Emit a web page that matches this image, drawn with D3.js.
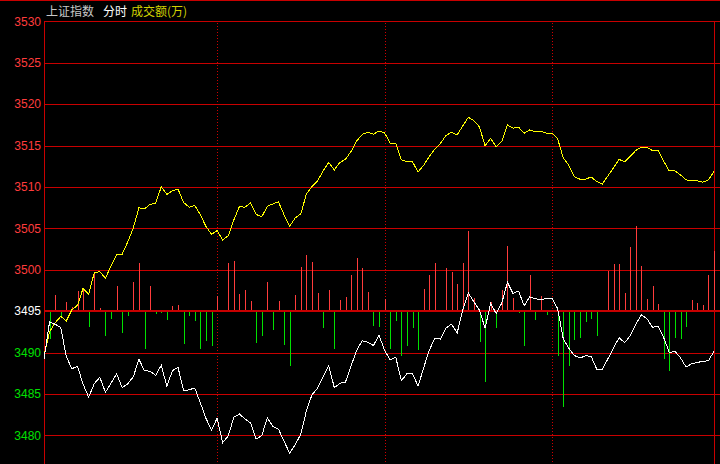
<!DOCTYPE html>
<html>
<head>
<meta charset="utf-8">
<script src="https://cdn.jsdelivr.net/npm/d3@7"></script>
<style>
	body { margin: 0; background: #000; }
	svg { display: block; }
</style>
</head>
<body>
<svg class="minutechart"></svg>
<script>
// price levels shown on the left axis
var priceTicks = [3530, 3525, 3520, 3515, 3510, 3505, 3500, 3495, 3490, 3485, 3480];
var baseLevel = 3495;

// sample index of the dotted hour lines (10:30, 11:30/13:00, 14:00)
var hourTicks = [31, 61, 91];

// index value every two minutes (white line)
var indexLine = [3489.18, 3493.71, 3493.41, 3493.02, 3489.49, 3488.04, 3488.34, 3486.17, 3484.60, 3486.23,
	3487.01, 3485.20, 3486.29, 3487.43, 3485.75, 3486.23, 3487.07, 3489.18, 3487.80, 3487.74,
	3487.25, 3488.46, 3485.93, 3487.80, 3488.22, 3485.38, 3485.50, 3485.71, 3483.93, 3482.06,
	3480.62, 3482.06, 3479.11, 3479.92, 3482.18, 3482.57, 3481.97, 3481.48, 3479.55, 3479.95,
	3482.12, 3481.04, 3480.74, 3479.26, 3477.84, 3478.87, 3480.13, 3482.97, 3484.90, 3485.68,
	3487.11, 3488.40, 3485.75, 3486.29, 3486.43, 3488.40, 3490.25, 3491.42, 3491.24, 3490.85,
	3492.08, 3490.27, 3489.12, 3489.43, 3486.59, 3487.43, 3487.43, 3485.93, 3488.16, 3490.27,
	3491.72, 3491.63, 3492.95, 3493.43, 3492.35, 3495.16, 3497.17, 3496.12, 3495.10, 3492.95,
	3495.94, 3494.68, 3496.00, 3498.48, 3497.13, 3497.42, 3495.64, 3496.73, 3496.49, 3496.36,
	3496.55, 3496.55, 3495.28, 3491.66, 3490.51, 3489.64, 3489.33, 3489.61, 3489.53, 3487.98,
	3488.00, 3489.24, 3490.57, 3491.78, 3491.18, 3492.02, 3493.41, 3494.53, 3494.07, 3493.05,
	3493.14, 3491.78, 3490.00, 3490.13, 3489.36, 3488.24, 3488.64, 3488.80, 3488.93, 3489.00,
	3490.15];

// second (yellow) line
var avgLine = [3489.60, 3492.50, 3493.59, 3494.35, 3493.83, 3495.16, 3495.70, 3497.75, 3497.03, 3499.62,
	3499.78, 3498.96, 3500.47, 3501.80, 3501.88, 3503.36, 3505.05, 3507.47, 3507.35, 3507.89,
	3508.04, 3510.00, 3509.10, 3509.52, 3509.72, 3508.13, 3507.55, 3507.77, 3506.62, 3505.24,
	3504.27, 3504.73, 3503.61, 3504.09, 3506.02, 3507.62, 3507.55, 3508.07, 3506.68, 3506.38,
	3507.65, 3507.95, 3508.19, 3506.62, 3505.24, 3506.26, 3506.74, 3509.16, 3510.06, 3510.73,
	3511.93, 3512.96, 3512.05, 3512.96, 3513.32, 3514.29, 3515.55, 3516.34, 3516.58, 3516.36,
	3516.76, 3516.52, 3515.28, 3515.28, 3513.26, 3513.08, 3513.02, 3511.81, 3512.60, 3513.68,
	3514.59, 3515.25, 3516.22, 3516.60, 3516.28, 3517.36, 3518.41, 3518.00, 3517.24, 3514.95,
	3515.86, 3514.83, 3515.49, 3517.48, 3517.09, 3517.21, 3516.48, 3516.88, 3516.64, 3516.72,
	3516.48, 3516.48, 3515.80, 3513.50, 3512.60, 3511.21, 3510.93, 3510.93, 3511.21, 3510.64,
	3510.36, 3511.33, 3512.30, 3513.32, 3513.02, 3513.68, 3514.41, 3514.79, 3514.76, 3514.38,
	3514.38, 3513.08, 3511.93, 3511.93, 3511.45, 3510.85, 3510.73, 3510.73, 3510.57, 3510.85,
	3511.85];

// turnover bars, positive = red (up), negative = green (down)
var turnover = [0, -28, 16.5, -6, 9.5, 4.5, 20.5, 22.5, -15.5, 38,
	3.5, -25, -7.5, 25, -22, -5, 29.5, 48, -38, 25.5,
	-2.5, -1.5, -8.5, 5.5, 6.5, -32.5, -5, -9.5, -37.5, -30,
	-34.5, 15.5, 1.5, 48, 50.5, 17.5, 21.5, 10.5, -31.5, -25,
	29.5, -19, 10, -33.5, -54.5, 16.5, 44.5, 56.5, 49.5, 18.5,
	-17, 21.5, -38, 11.5, 14.5, 36.5, 53.5, 43.5, 19.5, -15,
	-16, 12.5, -38, -10, -45, -35, -17, -39, 22.5, 36.5,
	48.5, 0, 43.5, 39.5, 27.5, 48.5, 80.5, 13, -31, -71,
	9, -17, 21.5, 65.5, 13, -2, -35, 36.5, -8.5, 15.5,
	-4, 0, -44.5, -96, -55, -29, -27, -11, -8, -25,
	1.5, 40, 47.5, 47.5, 18, 64, 85, 45.5, 12.5, 25.5,
	7.5, -47.5, -60, -26.5, -27.5, -16, 11.5, 8, 6.5, 36.5,
	60];

var width = 720, height = 464,
	left = 44, right = 714;

var svg = d3.select(".minutechart")
	.attr("width", width)
	.attr("height", height)
	.style("background", "#000");

var x = d3.scaleLinear().domain([0, indexLine.length - 1]).range([left, right]);
var y = d3.scaleLinear().domain([3480, 3530]).range([435.3, 21.3]);
var v = d3.scaleLinear().domain([0, 100]).range([0, 100]);

var px = function(n) { return Math.round(n) + 0.5; };

// top border
svg.append("line")
	.attr("x1", 0).attr("x2", width)
	.attr("y1", 0.5).attr("y2", 0.5)
	.attr("stroke", "#c80000");

// horizontal grid
svg.append("g").selectAll("line")
	.data(priceTicks)
	.enter().append("line")
	.attr("x1", left).attr("x2", width)
	.attr("y1", function(d) { return px(y(d)); })
	.attr("y2", function(d) { return px(y(d)); })
	.attr("stroke", "#c80000")
	.attr("shape-rendering", "crispEdges");

// dotted hour lines
svg.append("g").selectAll("line")
	.data(hourTicks)
	.enter().append("line")
	.attr("x1", function(d) { return px(x(d)); })
	.attr("x2", function(d) { return px(x(d)); })
	.attr("y1", y(3530) + 2).attr("y2", height)
	.attr("stroke", "#d00000")
	.attr("stroke-dasharray", "1,2")
	.attr("shape-rendering", "crispEdges");

// left and right frame
svg.append("g").selectAll("line")
	.data([left, right])
	.enter().append("line")
	.attr("x1", function(d) { return px(d); })
	.attr("x2", function(d) { return px(d); })
	.attr("y1", y(3530)).attr("y2", height)
	.attr("stroke", "#c80000")
	.attr("shape-rendering", "crispEdges");

// price labels
var yAxis = svg.append("g")
	.attr("transform", "translate(41,0)")
	.call(d3.axisLeft(y).tickValues(priceTicks).tickSize(0).tickPadding(0).tickFormat(d3.format("d")));
yAxis.select(".domain").remove();
yAxis.selectAll("text")
	.attr("font-family", "'Liberation Sans', Arial, sans-serif")
	.attr("font-size", 12)
	.attr("fill", function(d) {
		if (d > baseLevel) return "#ff3c3c";
		if (d < baseLevel) return "#00e000";
		return "#ffffff";
	});

// turnover bars
var base = y(baseLevel);
svg.append("g").selectAll("line")
	.data(turnover)
	.enter().append("line")
	.attr("x1", function(d, i) { return px(x(i)); })
	.attr("x2", function(d, i) { return px(x(i)); })
	.attr("y1", base)
	.attr("y2", function(d) { return base - (d > 0 ? v(d) : -v(-d)); })
	.attr("stroke", function(d) { return d > 0 ? "#ff3c3c" : "#00e000"; })
	.attr("shape-rendering", "crispEdges");

// base line drawn over the bars, thicker than the grid
svg.append("line")
	.attr("x1", left).attr("x2", width)
	.attr("y1", Math.round(base)).attr("y2", Math.round(base))
	.attr("stroke", "#c80000")
	.attr("stroke-width", 2)
	.attr("shape-rendering", "crispEdges");

var line = d3.line()
	.x(function(d, i) { return x(i); })
	.y(function(d) { return y(d); });

svg.append("path")
	.attr("d", line(avgLine))
	.attr("fill", "none")
	.attr("stroke", "#ffff00")
	.attr("stroke-width", 1)
	.attr("shape-rendering", "crispEdges");

svg.append("path")
	.attr("d", line(indexLine))
	.attr("fill", "none")
	.attr("stroke", "#ffffff")
	.attr("stroke-width", 1)
	.attr("shape-rendering", "crispEdges");

// header
var header = svg.append("g")
	.attr("font-family", "'Noto Sans CJK SC', sans-serif")
	.attr("font-size", 12);
header.append("text").attr("x", 46).attr("y", 16).attr("fill", "#c8c8c8").text("上证指数");
header.append("text").attr("x", 103).attr("y", 16).attr("fill", "#ffffff").text("分时");
header.append("text").attr("x", 131).attr("y", 16).attr("fill", "#d2d200").text("成交额(万)");
</script>
</body>
</html>
